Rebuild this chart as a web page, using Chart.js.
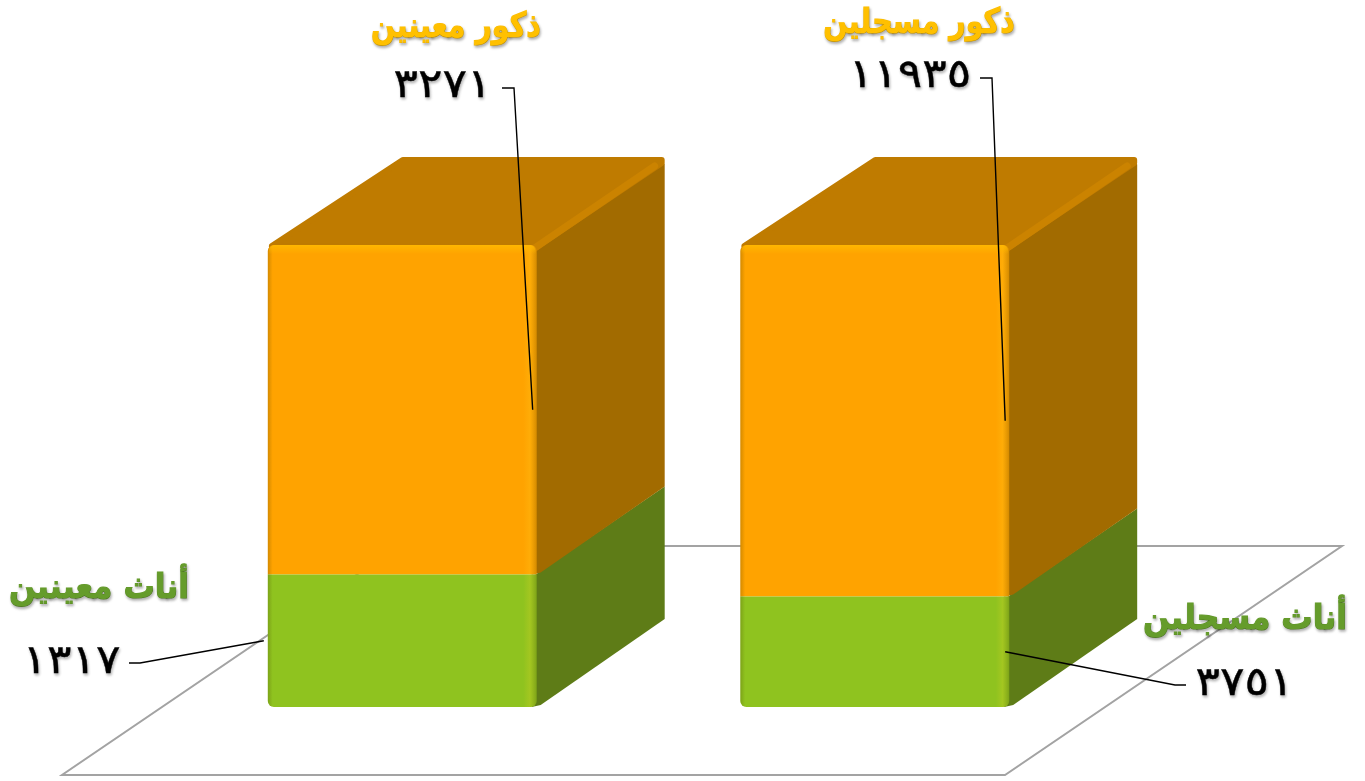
<!DOCTYPE html>
<html lang="ar">
<head>
<meta charset="utf-8">
<title>ذكور وأناث</title>
<script src="https://cdn.jsdelivr.net/npm/chart.js@4"></script>
<style>
  html, body { margin: 0; padding: 0; background: #fff; overflow: hidden; }
  canvas { display: block; }
</style>
</head>
<body>
<canvas id="chart" width="1365" height="781"></canvas>
<script>
const categories = ['معينين', 'مسجلين']
const femaleName = 'أناث'
const maleName = 'ذكور'
const females = [1317, 3751]
const males = [3271, 11935]

const totals = categories.map((_, i) => females[i] + males[i])
const femaleShare = females.map((v, i) => v / totals[i] * 100)
const maleShare = males.map((v, i) => v / totals[i] * 100)

const colors = {
  female: '#8fc31f',
  male: '#ffa300',
  femaleSide: '#5e7c17',
  maleSide: '#a26b00',
  top: '#bf7b00',
  ridge: '#cb8300',
  floor: '#a3a3a3',
  femaleText: '#659c2b',
  maleText: '#ffc000'
}

const depth = { x: 128, y: 88 }
const titleFont = 'bold 31px "DejaVu Sans"'
const valueFont = '40px "DejaVu Sans"'

const callouts = [
  { ds: 1, i: 0, side: 'right', elbow: [514, 88], end: [502, 88], title: [456, 28], value: [442.5, 87], squeeze: 0.92 },
  { ds: 1, i: 1, side: 'right', elbow: [992, 78], end: [980, 78], title: [919, 24], value: [910, 77], squeeze: 0.92 },
  { ds: 0, i: 0, side: 'left', elbow: [140, 663], end: [129, 663], title: [99, 589], value: [71.5, 663], squeeze: 1.01 },
  { ds: 0, i: 1, side: 'right', elbow: [1175, 685], end: [1186, 685], title: [1245, 620], value: [1244.5, 685], squeeze: 1.01 }
]

function arabicDigits(v) {
  return String(v).replace(/\d/g, d => '٠١٢٣٤٥٦٧٨٩'[d])
}

function polygon(ctx, points) {
  ctx.beginPath()
  points.forEach((p, i) => i ? ctx.lineTo(p[0], p[1]) : ctx.moveTo(p[0], p[1]))
  ctx.closePath()
}

const boxPlugin = {
  id: 'box',
  beforeDatasetsDraw(chart) {
    const ctx = chart.ctx
    const area = chart.chartArea
    ctx.save()

    polygon(ctx, [
      [area.left - 104, area.bottom + 68],
      [area.right - 106, area.bottom + 68],
      [area.right + 231, area.top + 301],
      [area.left + 233, area.top + 301]
    ])
    ctx.strokeStyle = colors.floor
    ctx.lineWidth = 2
    ctx.stroke()

    chart.data.datasets.forEach((ds, d) => {
      chart.getDatasetMeta(d).data.forEach(bar => {
        const right = bar.x + bar.width / 2
        polygon(ctx, [
          [right - 1, bar.y],
          [right + depth.x, bar.y - depth.y],
          [right + depth.x, bar.base - depth.y],
          [right + 4, bar.base - 2],
          [right - 5, bar.base]
        ])
        ctx.fillStyle = d === 0 ? colors.femaleSide : colors.maleSide
        ctx.fill()
      })
    })

    chart.getDatasetMeta(1).data.forEach(bar => {
      const left = bar.x - bar.width / 2
      const right = bar.x + bar.width / 2
      // white notch so the back corner reads as rounded
      polygon(ctx, [
        [right + depth.x - 8, bar.y - depth.y - 1],
        [right + depth.x + 1, bar.y - depth.y - 1],
        [right + depth.x + 1, bar.y - depth.y + 8]
      ])
      ctx.fillStyle = '#fff'
      ctx.fill()

      polygon(ctx, [
        [left + 4, bar.y + 1],
        [left + depth.x + 7, bar.y - depth.y + 3],
        [right + depth.x - 3, bar.y - depth.y + 3],
        [right + depth.x - 3, bar.y - depth.y + 6],
        [right, bar.y + 2]
      ])
      ctx.fillStyle = colors.top
      ctx.strokeStyle = colors.top
      ctx.lineWidth = 6
      ctx.lineJoin = 'round'
      ctx.fill()
      ctx.stroke()

      ctx.beginPath()
      ctx.moveTo(right - 2, bar.y + 3)
      ctx.lineTo(right + depth.x - 10, bar.y - depth.y + 9)
      ctx.strokeStyle = colors.ridge
      ctx.lineWidth = 7
      ctx.lineCap = 'round'
      ctx.stroke()
    })
    ctx.restore()
  },
  afterDatasetsDraw(chart) {
    const ctx = chart.ctx
    ctx.save()
    chart.data.datasets.forEach((ds, d) => {
      chart.getDatasetMeta(d).data.forEach(bar => {
        const left = bar.x - bar.width / 2
        const h = bar.base - bar.y
        const grad = ctx.createLinearGradient(left, 0, left + bar.width, 0)
        grad.addColorStop(0, 'rgba(60,50,0,0.22)')
        grad.addColorStop(0.018, 'rgba(60,50,0,0)')
        grad.addColorStop(0.95, 'rgba(255,215,40,0)')
        grad.addColorStop(0.975, 'rgba(255,215,40,0.18)')
        grad.addColorStop(1, 'rgba(60,50,0,0.22)')
        ctx.fillStyle = grad
        ctx.beginPath()
        ctx.roundRect(left, bar.y, bar.width, h, d === 1 ? [6, 6, 0, 0] : [0, 0, 6, 6])
        ctx.fill()
        if (d === 1) {
          const band = ctx.createLinearGradient(0, bar.y, 0, bar.y + 9)
          band.addColorStop(0, 'rgba(255,185,0,0.9)')
          band.addColorStop(1, 'rgba(255,185,0,0)')
          ctx.fillStyle = band
          ctx.beginPath()
          ctx.roundRect(left + 1, bar.y, bar.width - 2, 9, [6, 6, 0, 0])
          ctx.fill()
        }
      })
    })
    ctx.restore()
  },
  afterDraw(chart) {
    const ctx = chart.ctx
    ctx.save()
    callouts.forEach(c => {
      const bar = chart.getDatasetMeta(c.ds).data[c.i]
      const x = c.side === 'right' ? bar.x + bar.width / 2 - 4 : bar.x - bar.width / 2 - 4
      const y = (bar.y + bar.base) / 2

      ctx.beginPath()
      ctx.moveTo(c.end[0], c.end[1])
      ctx.lineTo(c.elbow[0], c.elbow[1])
      ctx.lineTo(x, y)
      ctx.strokeStyle = '#000'
      ctx.lineWidth = 1.4
      ctx.stroke()

      const name = c.ds === 0 ? femaleName : maleName
      const counts = c.ds === 0 ? females : males
      ctx.textAlign = 'center'
      ctx.textBaseline = 'middle'
      ctx.shadowColor = 'rgba(0,0,0,0.3)'
      ctx.shadowBlur = 3
      ctx.shadowOffsetX = 1
      ctx.shadowOffsetY = 2

      const titleColor = c.ds === 0 ? colors.femaleText : colors.maleText
      ctx.save()
      ctx.translate(c.title[0], c.title[1])
      ctx.scale(c.squeeze, 1.12)
      ctx.direction = 'rtl'
      ctx.font = titleFont
      ctx.fillStyle = titleColor
      ctx.strokeStyle = titleColor
      ctx.lineWidth = 1
      ctx.strokeText(name + ' ' + categories[c.i], 0, 0)
      ctx.fillText(name + ' ' + categories[c.i], 0, 0)
      ctx.restore()

      ctx.save()
      ctx.translate(c.value[0], c.value[1])
      ctx.scale(1.14, 1)
      ctx.font = valueFont
      ctx.direction = 'ltr'
      ctx.fillStyle = '#000'
      ctx.strokeStyle = '#000'
      ctx.lineWidth = 0.4
      ctx.strokeText(arabicDigits(counts[c.i]), 0, 0)
      ctx.fillText(arabicDigits(counts[c.i]), 0, 0)
      ctx.restore()

      ctx.shadowColor = 'transparent'
    })
    ctx.restore()
  }
}

new Chart(document.getElementById('chart'), {
  type: 'bar',
  data: {
    labels: categories,
    datasets: [{
      label: femaleName,
      data: femaleShare,
      backgroundColor: colors.female,
      borderRadius: { bottomLeft: 6, bottomRight: 6 },
      borderSkipped: false
    }, {
      label: maleName,
      data: maleShare,
      backgroundColor: colors.male,
      borderRadius: { topLeft: 6, topRight: 6 },
      borderSkipped: false
    }]
  },
  options: {
    responsive: false,
    animation: false,
    layout: { padding: { left: 166, right: 254, top: 245, bottom: 74 } },
    datasets: { bar: { barPercentage: 0.569, categoryPercentage: 1 } },
    plugins: {
      legend: { display: false },
      tooltip: { enabled: false }
    },
    scales: {
      x: { stacked: true, display: false },
      y: { stacked: true, display: false, min: 0, max: 100 }
    }
  },
  plugins: [boxPlugin]
})
</script>
</body>
</html>
